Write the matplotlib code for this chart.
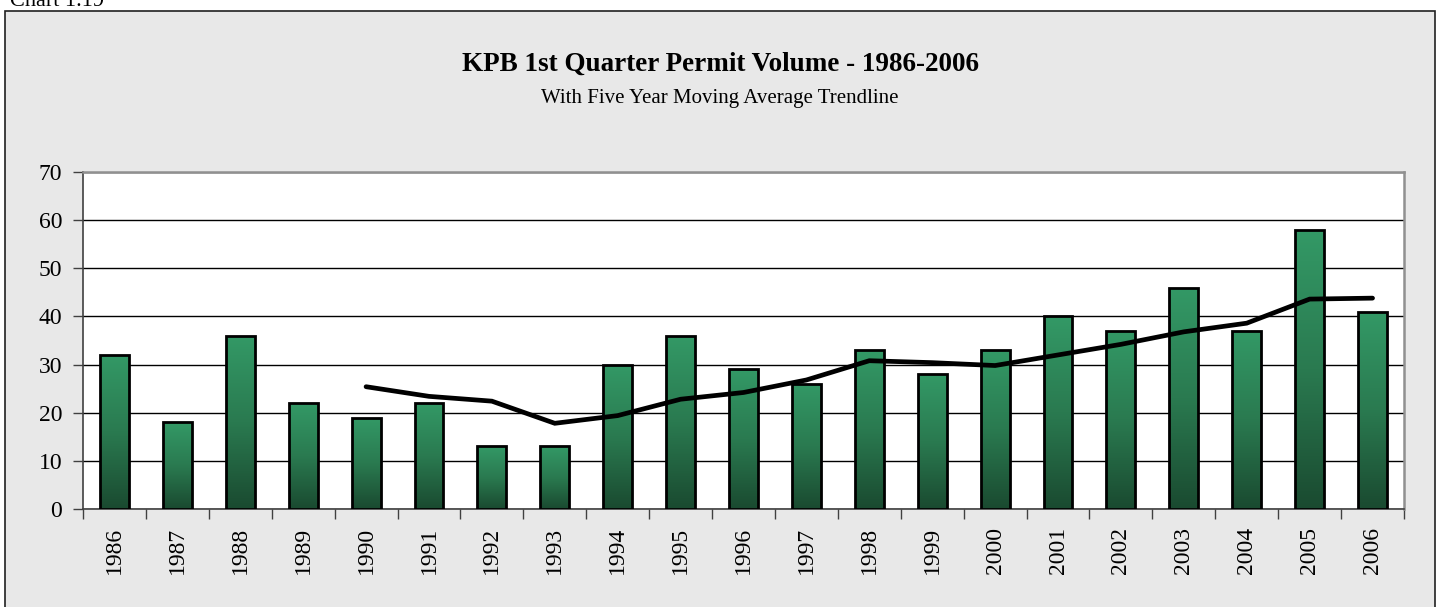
import numpy as np
import matplotlib
matplotlib.use("Agg")
import matplotlib.pyplot as plt
from matplotlib.patches import Rectangle
from matplotlib.colors import LinearSegmentedColormap

plt.rcParams['font.family'] = ['Liberation Serif', 'DejaVu Serif']

# data
years = [str(y) for y in range(1986, 2007)]
permits = [32, 18, 36, 22, 19, 22, 13, 13, 30, 36, 29, 26, 33, 28, 33, 40, 37, 46, 37, 58, 41]
# five year moving average, starts at 1990
ma_years = years[4:]
moving_avg = [25.4, 23.4, 22.4, 17.8, 19.4, 22.8, 24.2, 26.8, 30.8, 30.4, 29.8,
              32.0, 34.2, 36.8, 38.6, 43.6, 43.8]
yticks = [0, 10, 20, 30, 40, 50, 60, 70]

fig = plt.figure(figsize=(14.4, 6.07), dpi=100)
fig.patch.set_facecolor('white')

# outer chart frame
frame = Rectangle((5 / 1440, -0.05), 1430 / 1440, 1.05 - 11 / 607,
                  transform=fig.transFigure, facecolor='#e8e8e8',
                  edgecolor='#202020', linewidth=1.2, zorder=-10)
fig.patches.append(frame)

fig.text(10 / 1440, 1 - 6 / 607, 'Chart 1.19', fontsize=16, ha='left', va='baseline')
fig.text(0.5, 1 - 71 / 607, 'KPB 1st Quarter Permit Volume - 1986-2006',
         fontsize=19.5, fontweight='bold', ha='center', va='baseline')
fig.text(0.5, 1 - 103 / 607, 'With Five Year Moving Average Trendline',
         fontsize=15, ha='center', va='baseline')

ax = fig.add_axes([83 / 1440, 1 - 509 / 607, (1404 - 83) / 1440, (509 - 172) / 607])
ax.set_facecolor('white')

x = np.arange(len(years))
width = 0.46
cmap = LinearSegmentedColormap.from_list('grn', ['#1a4a30', '#2a7a50', '#339966'])
grad = np.linspace(0, 1, 256).reshape(-1, 1)

bars = ax.bar(x, permits, width=width, facecolor='none', edgecolor='black',
              linewidth=2.0, zorder=4)
for b in bars:
    x0, y0 = b.get_x(), b.get_y()
    im = ax.imshow(grad, cmap=cmap, aspect='auto', origin='lower',
                   extent=[x0, x0 + b.get_width(), y0, y0 + b.get_height()], zorder=3)
    im.set_clip_path(b)

ma_x = [years.index(y) for y in ma_years]
ax.plot(ma_x, moving_avg, color='black', linewidth=3.4, solid_capstyle='round',
        solid_joinstyle='miter', zorder=5)

ax.set_xlim(-0.5, len(years) - 0.5)
ax.set_ylim(0, 70)
ax.set_yticks(yticks)
ax.set_yticklabels([str(t) for t in yticks], fontsize=17)
ax.yaxis.grid(True, color='black', linewidth=1.0)
ax.set_axisbelow(True)

ax.set_xticks(x)
ax.set_xticklabels(years, rotation=90, fontsize=17)
ax.set_xticks(np.arange(-0.5, len(years)), minor=True)
ax.tick_params(axis='x', which='major', length=0, pad=13)
ax.tick_params(axis='x', which='minor', length=7, width=1, color='#404040', direction='out')
ax.tick_params(axis='y', length=7, width=1, color='#404040', pad=8)

for s in ['top', 'right']:
    ax.spines[s].set_color('#909090')
    ax.spines[s].set_linewidth(1.8)
for s in ['left', 'bottom']:
    ax.spines[s].set_color('#404040')
    ax.spines[s].set_linewidth(1.2)

fig.savefig('out.png', dpi=100)
